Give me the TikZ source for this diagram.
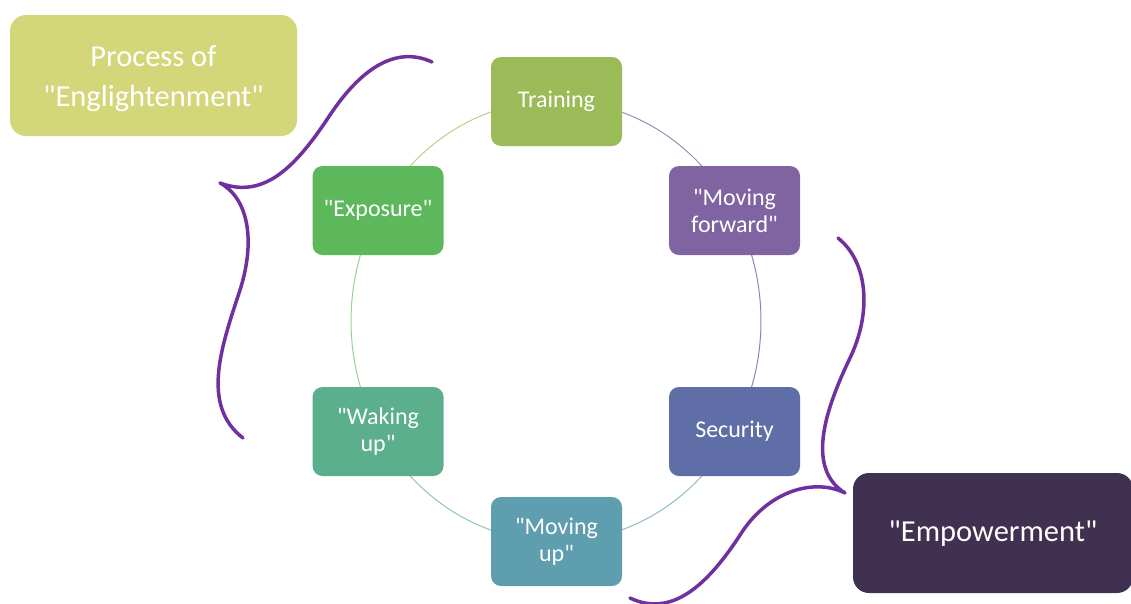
\documentclass[tikz,border=0pt]{standalone}
\usepackage{fontspec}
\setmainfont{Carlito}[Ligatures=TeXOff]
\definecolor{trainC}{HTML}{9BBB59}
\definecolor{mfC}{HTML}{8064A2}
\definecolor{secC}{HTML}{5F6EA6}
\definecolor{mupC}{HTML}{5F9EAE}
\definecolor{wakeC}{HTML}{5BAF8D}
\definecolor{expC}{HTML}{5DB85C}
\definecolor{procC}{HTML}{D3D77A}
\definecolor{empC}{HTML}{403151}
\definecolor{braceC}{HTML}{7030A0}
\begin{document}
\begin{tikzpicture}[x=1pt,y=-1pt,
  stepbox/.style={rounded corners=10pt, minimum width=131pt, minimum height=89pt,
    inner sep=0pt, align=center, text=white, font=\fontsize{24}{27}\selectfont},
  bigbox/.style={rounded corners=16pt, inner sep=0pt},
  bigtext/.style={inner sep=0pt, align=center, text=white, font=\fontsize{30.5}{40}\selectfont},
  ring/.style={line width=1pt},
  bracestyle/.style={draw=braceC, line width=3.5pt, line cap=round, line join=round}]
\useasboundingbox (0,0) rectangle (1131,603);
% ring segments
\draw[ring, draw=trainC!70] plot[domain=-150:-90, samples=40, variable=\t] ({556+205*cos(\t)},{321+220.5*sin(\t)});
\draw[ring, draw=mfC!75] plot[domain=-90:-30, samples=40, variable=\t] ({556+205*cos(\t)},{321+220.5*sin(\t)});
\draw[ring, draw=secC!80] plot[domain=-30:30, samples=40, variable=\t] ({556+205*cos(\t)},{321+220.5*sin(\t)});
\draw[ring, draw=mupC!70] plot[domain=30:90, samples=40, variable=\t] ({556+205*cos(\t)},{321+220.5*sin(\t)});
\draw[ring, draw=wakeC!70] plot[domain=90:150, samples=40, variable=\t] ({556+205*cos(\t)},{321+220.5*sin(\t)});
\draw[ring, draw=expC!65] plot[domain=150:210, samples=40, variable=\t] ({556+205*cos(\t)},{321+220.5*sin(\t)});
% step nodes
\node[stepbox, fill=trainC] (train) at (556.5,101.5) {Training};
\node[stepbox, fill=mfC] (mf) at (734.5,210.5) {"Moving\\forward"};
\node[stepbox, fill=secC] (sec) at (734.5,431.5) {Security};
\node[stepbox, fill=mupC] (mup) at (556.5,541.5) {"Moving\\up"};
\node[stepbox, fill=wakeC] (wake) at (378,431.5) {"Waking\\up"};
\node[stepbox, fill=expC] (exp) at (378,210.5) {"Exposure"};
% big labels
\node[bigbox, fill=procC, minimum width=287pt, minimum height=121pt] (proc) at (153.5,75.5) {};
\node[bigtext] (proctext) at ([yshift=-3pt]proc.center) {Process of\\"Englightenment"};
\node[bigbox, fill=empC, minimum width=280pt, minimum height=120pt] (emp) at (993,533) {};
\node[bigtext] (emptext) at ([yshift=-1pt]emp.center) {"Empowerment"};
% braces
\coordinate (lt) at (432,62);
\coordinate (ltip) at (220,183);
\coordinate (lb) at (243,438);
\draw[bracestyle] (lt) .. controls (395,45) and (360,70) .. (330,115)
  .. controls (297,165) and (265,200) .. (ltip)
  .. controls (248,198) and (256,240) .. (240,290)
  .. controls (222,345) and (200,405) .. (lb);
\coordinate (rt) at (838,238);
\coordinate (rtip) at (845,493);
\coordinate (rb) at (630,598);
\draw[bracestyle] (rt) .. controls (868,262) and (872,312) .. (850,358)
  .. controls (826,408) and (805,468) .. (rtip)
  .. controls (815,478) and (770,490) .. (742,532)
  .. controls (708,585) and (672,618) .. (rb);
\end{tikzpicture}
\end{document}
